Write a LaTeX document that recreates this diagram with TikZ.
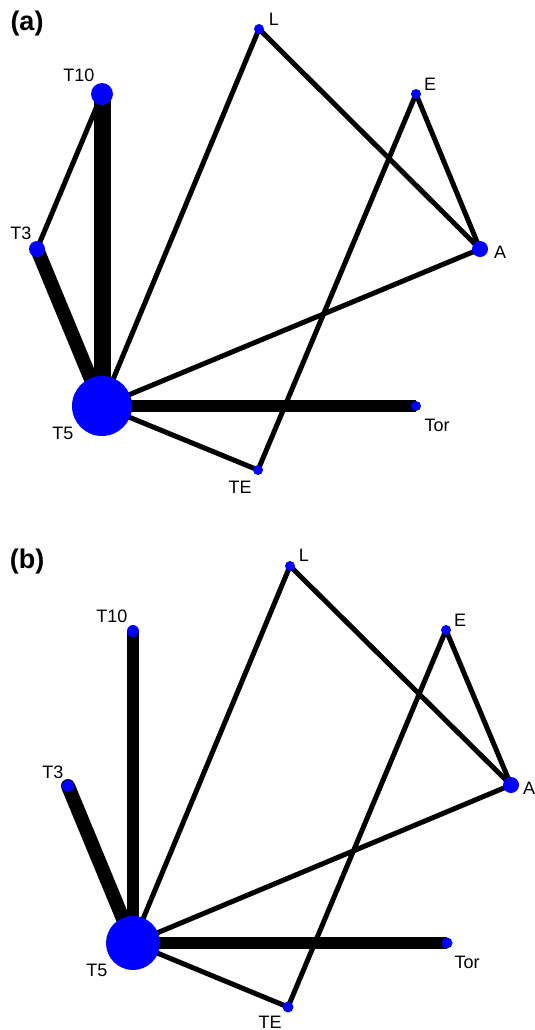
\documentclass[tikz,border=0pt]{standalone}
\usepackage{fontspec}
\setmainfont{Liberation Sans}
\usetikzlibrary{backgrounds}
\begin{document}
\begin{tikzpicture}[x=1pt,y=-1pt,
  dot/.style={circle,fill=blue,draw=none,inner sep=0pt,minimum size=#1},
  lab/.style={inner sep=0pt,font=\fontsize{18}{18}\selectfont},
  tag/.style={inner sep=0pt,font=\fontsize{27}{27}\selectfont\bfseries},
  link/.style={line width=#1,line cap=round},
  link/.default=5pt]
\useasboundingbox (0,0) rectangle (535,1030);

% ---------- panel (a) ----------
\node[tag] (ta) at (27,24) {(a)};
\node[dot=22pt] (aT10) at (102,94) {};
\node[dot=16pt] (aT3)  at (37,249) {};
\node[dot=60pt] (aT5)  at (102,406) {};
\node[dot=10pt] (aL)   at (259,29) {};
\node[dot=10pt] (aE)   at (416,94) {};
\node[dot=16pt] (aA)   at (480,249) {};
\node[dot=10pt] (aTor) at (416,406) {};
\node[dot=10pt] (aTE)  at (258,470) {};

% ---------- panel (b) ----------
\node[tag] (tb) at (27,562) {(b)};
\node[dot=12pt] (bT10) at (133,631) {};
\node[dot=12pt] (bT3)  at (68,786) {};
\node[dot=54pt] (bT5)  at (133,943) {};
\node[dot=10pt] (bL)   at (290,566) {};
\node[dot=10pt] (bE)   at (446,630) {};
\node[dot=16pt] (bA)   at (511,785) {};
\node[dot=11pt] (bTor) at (447,943) {};
\node[dot=11pt] (bTE)  at (288,1007) {};

% connectors, drawn from centre to centre behind the dots
\begin{scope}[on background layer]
\draw[link=17pt,line cap=butt] (aT10.center) -- (aT5.center);
\draw[link=14pt] (aT3.center) -- (aT5.center);
\draw[link=5pt] (aT10.center) -- (aT3.center);
\draw[link=12pt,line cap=butt] (aT5.center) -- (aTor.center);
\draw[link] (aL.center) -- (aT5.center);
\draw[link] (aL.center) -- (aA.center);
\draw[link] (aE.center) -- (aA.center);
\draw[link] (aE.center) -- (aTE.center);
\draw[link] (aA.center) -- (aT5.center);
\draw[link] (aT5.center) -- (aTE.center);

\draw[link=12pt,line cap=butt] (bT10.center) -- (bT5.center);
\draw[link=14pt] (bT3.center) -- (bT5.center);
\draw[link=12pt,line cap=butt] (bT5.center) -- (bTor.center);
\draw[link] (bL.center) -- (bT5.center);
\draw[link] (bL.center) -- (bA.center);
\draw[link] (bE.center) -- (bA.center);
\draw[link] (bE.center) -- (bTE.center);
\draw[link] (bA.center) -- (bT5.center);
\draw[link] (bT5.center) -- (bTE.center);
\end{scope}

% labels
\node[lab] (laT10) at (79,75)  {T10};
\node[lab] (laT3)  at (21,233) {T3};
\node[lab] (laT5)  at (63,433) {T5};
\node[lab] (laL)   at (274,19) {L};
\node[lab] (laE)   at (430,84) {E};
\node[lab] (laA)   at (500,252) {A};
\node[lab] (laTor) at (437,425) {Tor};
\node[lab] (laTE)  at (240,487) {TE};

\node[lab] (lbT10) at (112,616) {T10};
\node[lab] (lbT3)  at (53,772)  {T3};
\node[lab] (lbT5)  at (97,970)  {T5};
\node[lab] (lbL)   at (304,555) {L};
\node[lab] (lbE)   at (460,620) {E};
\node[lab] (lbA)   at (529,788) {A};
\node[lab] (lbTor) at (467,962) {Tor};
\node[lab] (lbTE)  at (270,1022) {TE};
\end{tikzpicture}
\end{document}
